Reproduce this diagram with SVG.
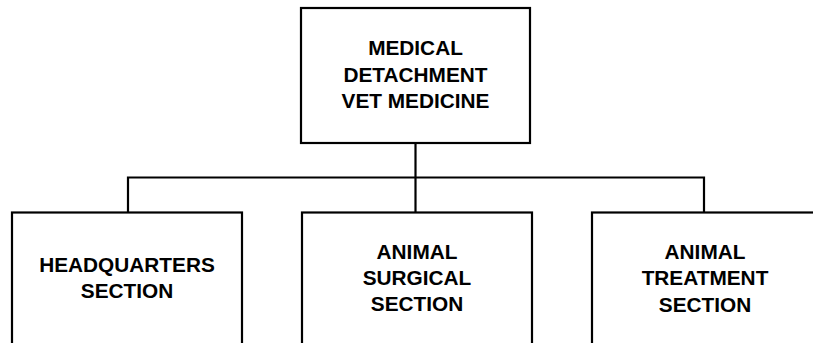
<svg xmlns="http://www.w3.org/2000/svg" width="813" height="343" viewBox="0 0 813 343">
<style>
.box{fill:#fff;stroke:#000;stroke-width:2.2}
.ln{fill:none;stroke:#000;stroke-width:2.2}
text{font-family:"Liberation Sans",Arial,sans-serif;font-weight:bold;font-size:20.8px;fill:#000;text-anchor:middle}
</style>
<rect width="813" height="343" fill="#fff"/>
<g id="connectors">
<line class="ln" x1="415.5" y1="143" x2="415.5" y2="213"/>
<polyline class="ln" points="128,213 128,177.5 704,177.5 704,213"/>
</g>
<g id="node-top">
<rect class="box" x="301" y="8" width="229" height="135"/>
<text x="415.5" y="55">MEDICAL</text>
<text x="415.5" y="81.5">DETACHMENT</text>
<text x="415.5" y="108">VET MEDICINE</text>
</g>
<g id="node-hq">
<rect class="box" x="12" y="212.5" width="230" height="150"/>
<text x="127" y="271.5">HEADQUARTERS</text>
<text x="127" y="298">SECTION</text>
</g>
<g id="node-surgical">
<rect class="box" x="302" y="212.5" width="230" height="150"/>
<text x="417" y="259">ANIMAL</text>
<text x="417" y="285">SURGICAL</text>
<text x="417" y="311">SECTION</text>
</g>
<g id="node-treatment">
<rect class="box" x="592" y="212.5" width="230" height="150"/>
<text x="705" y="259">ANIMAL</text>
<text x="705" y="285">TREATMENT</text>
<text x="705" y="311.5">SECTION</text>
</g>
</svg>
